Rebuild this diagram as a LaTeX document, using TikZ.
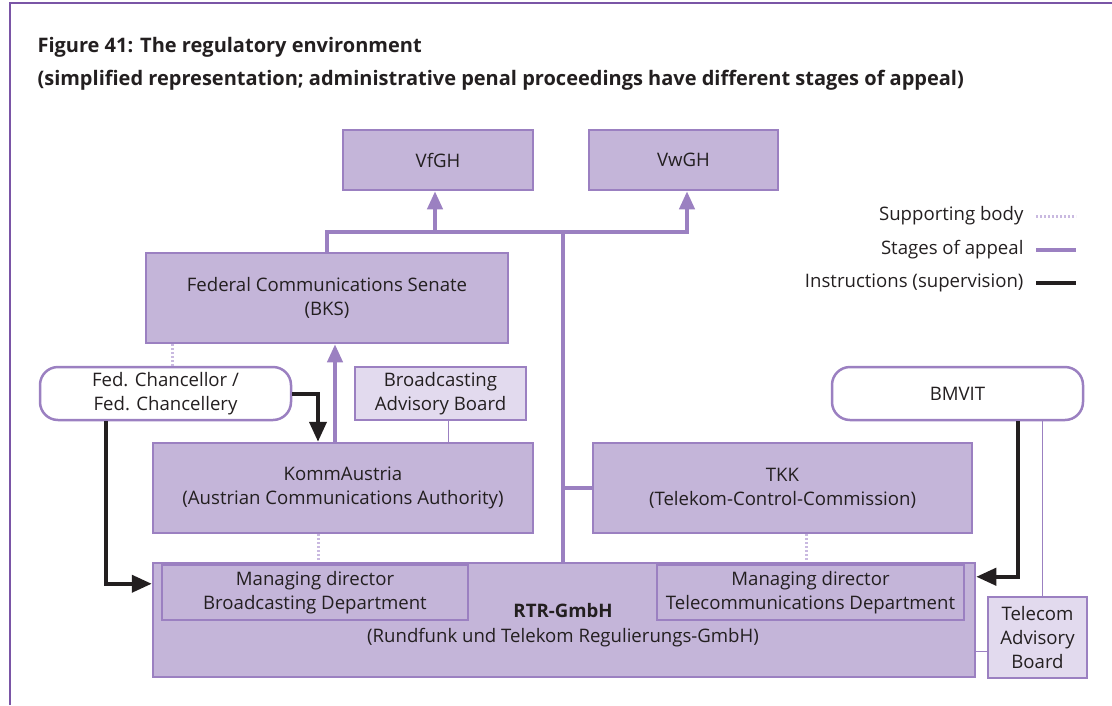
\documentclass[tikz,border=0pt]{standalone}
\usepackage{fontspec}
\setmainfont{Open Sans}
\usetikzlibrary{arrows.meta}

\definecolor{ink}{HTML}{231F20}
\definecolor{boxfill}{HTML}{C4B5D9}
\definecolor{boxline}{HTML}{9B80C1}
\definecolor{lightfill}{HTML}{E2DAEE}
\definecolor{dotline}{HTML}{C9B9E0}
\definecolor{framecol}{HTML}{7A55A6}

\tikzset{
  body/.style = {rectangle, draw=boxline, fill=boxfill, line width=2.5pt, align=center},
  advisory/.style = {rectangle, draw=boxline, fill=lightfill, line width=2.5pt, align=center},
  minister/.style = {rectangle, rounded corners=18pt, draw=boxline, fill=white, line width=2.5pt, align=center},
  appeal/.style = {draw=boxline, line width=4pt},
  instruct/.style = {draw=ink, line width=4pt},
  support/.style = {draw=dotline, line width=3pt, dash pattern=on 2pt off 2pt},
  thin/.style = {draw=boxline, line width=1.3pt},
  uptip/.style = {-{Triangle[width=15pt,length=18pt]}},
  blacktip/.style = {-{Triangle[width=17pt,length=20pt]}}
}

\begin{document}
\begin{tikzpicture}[x=1pt, y=-1pt, font=\fontsize{18.6}{24}\selectfont, text=ink]
\useasboundingbox (0,0) rectangle (1112,705);
\draw[framecol, line width=2.5pt] (10,705) -- (10,3) -- (1112,3);

% heading
\node[anchor=west, font=\fontsize{20}{24}\selectfont\bfseries] (title) at (34,47) {Figure 41: The regulatory environment};
\node[anchor=west, font=\fontsize{20}{24}\selectfont\bfseries] (subtitle) at (34,80) {(simplified representation; administrative penal proceedings have different stages of appeal)};

% courts
\begin{scope}[every node/.style = {body}]
\node[minimum width=190pt, minimum height=60pt] (vfgh) at (438,160) {VfGH};
\node[minimum width=189pt, minimum height=60pt] (vwgh) at (683.5,160) {VwGH};
\node[minimum width=362pt, minimum height=90pt] (bks) at (327,298) {Federal Communications Senate\\(BKS)};
\node[minimum width=380pt, minimum height=90pt] (komm) at (343,488) {KommAustria\\(Austrian Communications Authority)};
\node[minimum width=379pt, minimum height=90pt] (tkk) at (782.5,488) {TKK\\(Telekom-Control-Commission)};
\node[minimum width=822pt, minimum height=114pt] (rtr) at (564,620) {};
\node[minimum width=306pt, minimum height=55pt] (mdb) at (315,592.5) {Managing director\\Broadcasting Department};
\node[minimum width=307pt, minimum height=55pt] (mdt) at (810.5,592.5) {Managing director\\Telecommunications Department};
\end{scope}
\node[font=\fontsize{18.6}{24}\selectfont\bfseries] (rtrname) at (563,611) {RTR-GmbH};
\node (rtrfull) at (563,638) {(Rundfunk und Telekom Regulierungs-GmbH)};

% ministries and advisory boards
\node[minister, minimum width=251pt, minimum height=53pt] (chancellor) at (165.5,393.5) {Fed. Chancellor /\\Fed. Chancellery};
\node[minister, minimum width=251pt, minimum height=53pt] (bmvit) at (957.5,393.5) {BMVIT};
\node[advisory, minimum width=171pt, minimum height=53pt] (bab) at (440.5,393.5) {Broadcasting\\Advisory Board};
\node[advisory, minimum width=99pt, minimum height=81pt] (tab) at (1037.5,637.5) {Telecom\\Advisory\\Board};

% stages of appeal
\coordinate (fork) at (563,232);
\draw[appeal, uptip] (bks.north) |- (fork) -| ([xshift=3.5pt]vwgh.south);
\draw[appeal, uptip] ([xshift=-3pt]vfgh.south |- fork) -- ([xshift=-3pt]vfgh.south);
\draw[appeal] (rtr.north -| fork) -- (fork);
\draw[appeal] (tkk.west) -- (tkk.west -| fork);
\draw[appeal, uptip] ([xshift=-8pt]komm.north) -- ([xshift=-8pt]komm.north |- bks.south);

% instructions
\draw[instruct, blacktip] (chancellor.east) -| ([xshift=-25pt]komm.north);
\draw[instruct, blacktip] ([xshift=-60pt]chancellor.south) |- ([yshift=-22pt]rtr.north west);
\draw[instruct, blacktip] ([xshift=60pt]bmvit.south) |- ([yshift=-15pt]rtr.north east);

% supporting bodies
\draw[support] ([xshift=-155pt]bks.south) -- ([xshift=-155pt]bks.south |- chancellor.north);
\draw[support] ([xshift=-25pt]komm.south) -- ([xshift=-25pt]komm.south |- rtr.north);
\draw[support] ([xshift=24pt]tkk.south) -- ([xshift=24pt]tkk.south |- rtr.north);
\draw[thin] ([xshift=8pt]bab.south) -- ([xshift=8pt]bab.south |- komm.north);
\draw[thin] ([xshift=85pt]bmvit.south) -- ([xshift=85pt]bmvit.south |- tab.north);
\draw[thin] ([yshift=-14pt]tab.west) -- ([yshift=-14pt]tab.west -| rtr.east);

% legend
\node[anchor=east] (lsupport) at (1027,216) {Supporting body};
\node[anchor=east] (lappeal) at (1027,250) {Stages of appeal};
\node[anchor=east] (linstruct) at (1027,283) {Instructions (supervision)};
\draw[support] ([xshift=9pt]lsupport.east) -- ++(40,0);
\draw[appeal] ([xshift=9pt]lappeal.east) -- ++(40,0);
\draw[instruct] ([xshift=9pt]linstruct.east) -- ++(40,0);
\end{tikzpicture}
\end{document}
